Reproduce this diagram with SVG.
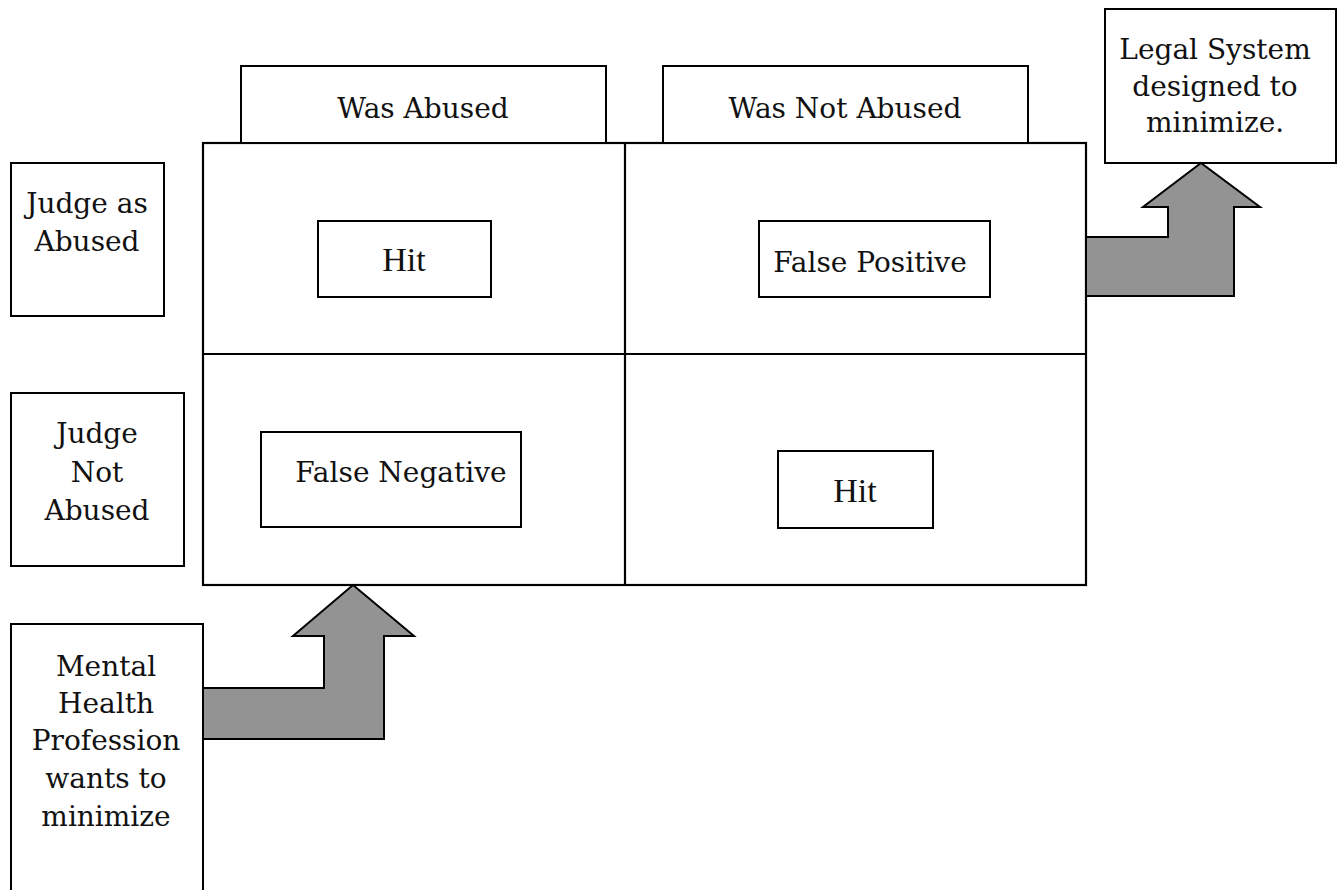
<svg xmlns="http://www.w3.org/2000/svg" width="1342" height="890" viewBox="0 0 1342 890">
<style>
.box{fill:#fff;stroke:#000;stroke-width:2}
.grid{fill:none;stroke:#000;stroke-width:2.2}
.arrow{fill:#939393;stroke:#000;stroke-width:2;stroke-linejoin:miter}
.t{font-family:"DejaVu Serif","Liberation Serif",serif;font-size:28px;fill:#111;text-anchor:middle}
.h{font-family:"Liberation Serif","Times New Roman",serif;font-size:34px;fill:#111;text-anchor:middle}
</style>
<rect width="1342" height="890" fill="#fff"/>
<g id="matrix">
<rect class="grid" x="203" y="143" width="883" height="442"/>
<line class="grid" x1="625" y1="143" x2="625" y2="585"/>
<line class="grid" x1="203" y1="354" x2="1086" y2="354"/>
</g>
<g id="col-was-abused">
<rect class="box" x="241" y="66" width="365" height="77"/>
<text class="t" x="423" y="118">Was Abused</text>
</g>
<g id="col-was-not-abused">
<rect class="box" x="663" y="66" width="365" height="77"/>
<text class="t" x="845" y="118">Was Not Abused</text>
</g>
<g id="row-judge-abused">
<rect class="box" x="11" y="163" width="153" height="153"/>
<text class="t" x="87" y="213">Judge as</text>
<text class="t" x="87" y="251">Abused</text>
</g>
<g id="row-judge-not-abused">
<rect class="box" x="11" y="393" width="173" height="173"/>
<text class="t" x="97" y="443">Judge</text>
<text class="t" x="97" y="482">Not</text>
<text class="t" x="97" y="520">Abused</text>
</g>
<g id="cell-hit-1">
<rect class="box" x="318" y="221" width="173" height="76"/>
<text class="h" x="404" y="271">Hit</text>
</g>
<g id="cell-false-positive">
<rect class="box" x="759" y="221" width="231" height="76"/>
<text class="t" x="870" y="272">False Positive</text>
</g>
<g id="cell-false-negative">
<rect class="box" x="261" y="432" width="260" height="95"/>
<text class="t" x="401" y="482">False Negative</text>
</g>
<g id="cell-hit-2">
<rect class="box" x="778" y="451" width="155" height="77"/>
<text class="h" x="855" y="502">Hit</text>
</g>
<g id="legal-system">
<rect class="box" x="1105" y="9" width="231" height="154"/>
<text class="t" x="1215" y="59">Legal System</text>
<text class="t" x="1215" y="96">designed to</text>
<text class="t" x="1215" y="132">minimize.</text>
</g>
<g id="mental-health">
<rect class="box" x="11" y="624" width="192" height="290"/>
<text class="t" x="106" y="676">Mental</text>
<text class="t" x="106" y="713">Health</text>
<text class="t" x="106" y="750">Profession</text>
<text class="t" x="106" y="788">wants to</text>
<text class="t" x="106" y="826">minimize</text>
</g>
<g id="connectors">
<polygon class="arrow" points="1086,237 1168,237 1168,207 1143,207 1201,163 1260,207 1234,207 1234,296 1086,296"/>
<polygon class="arrow" points="203,688 324,688 324,636 293,636 353,585 414,636 384,636 384,739 203,739"/>
</g>
</svg>
